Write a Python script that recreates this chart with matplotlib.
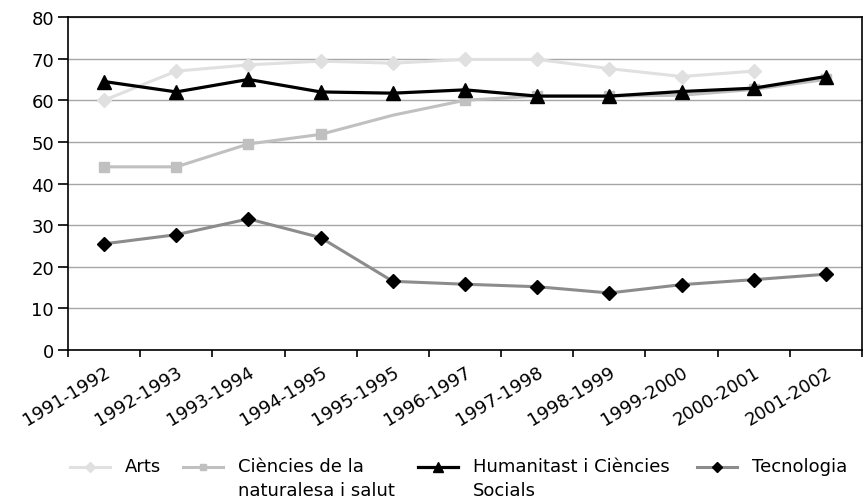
import numpy as np
import matplotlib
matplotlib.use("Agg")
import matplotlib.pyplot as plt
from matplotlib.lines import Line2D

plt.rcParams["font.family"] = ["DejaVu Sans"]

cursos = ["1991-1992", "1992-1993", "1993-1994", "1994-1995", "1995-1995",
          "1996-1997", "1997-1998", "1998-1999", "1999-2000", "2000-2001",
          "2001-2002"]
arts = [60, 67, 68.5, 69.4, 68.9, 69.8, 69.8, 67.6, 65.7, 67, np.nan]
ciencies = [44, 44, 49.5, 51.8, 56.4, 60, 61, 61, 61.2, 62.6, 65]
humanitats = [64.5, 62, 65, 62, 61.7, 62.5, 61, 61, 62.1, 62.9, 65.7]
tecnologia = [25.5, 27.7, 31.5, 27, 16.5, 15.8, 15.2, 13.7, 15.7, 16.9, 18.2]

series = [
    ("Arts", arts, dict(color="#e0e0e0", lw=2.2, marker="D", ms=7,
                        mfc="#e0e0e0", mec="#e0e0e0")),
    ("Ciències de la\nnaturalesa i salut", ciencies,
     dict(color="#c0c0c0", lw=2.2, marker="s", ms=6.5, mfc="#c0c0c0",
          mec="#c0c0c0", markevery=[0, 1, 2, 3, 5, 6, 7, 8, 9, 10])),
    ("Humanitast i Ciències\nSocials", humanitats,
     dict(color="black", lw=2.3, marker="^", ms=10, mfc="black", mec="black")),
    ("Tecnologia", tecnologia,
     dict(color="#8c8c8c", lw=2.2, marker="D", ms=7, mfc="black", mec="black")),
]

fig = plt.figure(figsize=(8.67, 5.02), dpi=100)
ax = fig.add_axes([68 / 867, 1 - 351 / 502, 794 / 867, 333 / 502])

x = np.arange(len(cursos))
for i, (label, vals, st) in enumerate(series):
    ax.plot(x, vals, zorder=3 + i, **st)

ax.set_xlim(-0.5, len(cursos) - 0.5)
ax.set_ylim(0, 80)
ax.set_yticks(range(0, 81, 10))
ax.yaxis.grid(True, color="#a6a6a6", lw=1)
ax.set_axisbelow(True)
for s in ax.spines.values():
    s.set_color("black")
    s.set_linewidth(1.2)

ax.set_xticks(x)
ax.set_xticklabels(cursos, rotation=31, ha="right", rotation_mode="anchor",
                   fontsize=13)
ax.set_xticks(np.arange(-0.5, len(cursos)), minor=True)
ax.tick_params(axis="x", which="major", length=0, pad=9)
ax.tick_params(axis="x", which="minor", length=5, width=1.2, direction="out")
ax.tick_params(axis="y", length=7, width=1.2, labelsize=13, pad=3)

# legend drawn by hand so the handle sits on the first text line
leg_x = [70, 183, 418, 697]
for (label, vals, st), x0 in zip(series, leg_x):
    y0 = 1 - 468 / 502
    ln = Line2D([x0 / 867, (x0 + 40) / 867], [y0, y0], transform=fig.transFigure,
                color=st["color"], lw=st["lw"])
    fig.add_artist(ln)
    mk = Line2D([(x0 + 20) / 867], [y0], transform=fig.transFigure,
                marker=st["marker"], ms=st["ms"] * 0.75, mfc=st["mfc"],
                mec=st["mec"], lw=0)
    fig.add_artist(mk)
    fig.text((x0 + 55) / 867, 1 - 458 / 502, label, fontsize=13, ha="left",
             va="top", linespacing=1.4)

fig.savefig("out.png", dpi=100)
